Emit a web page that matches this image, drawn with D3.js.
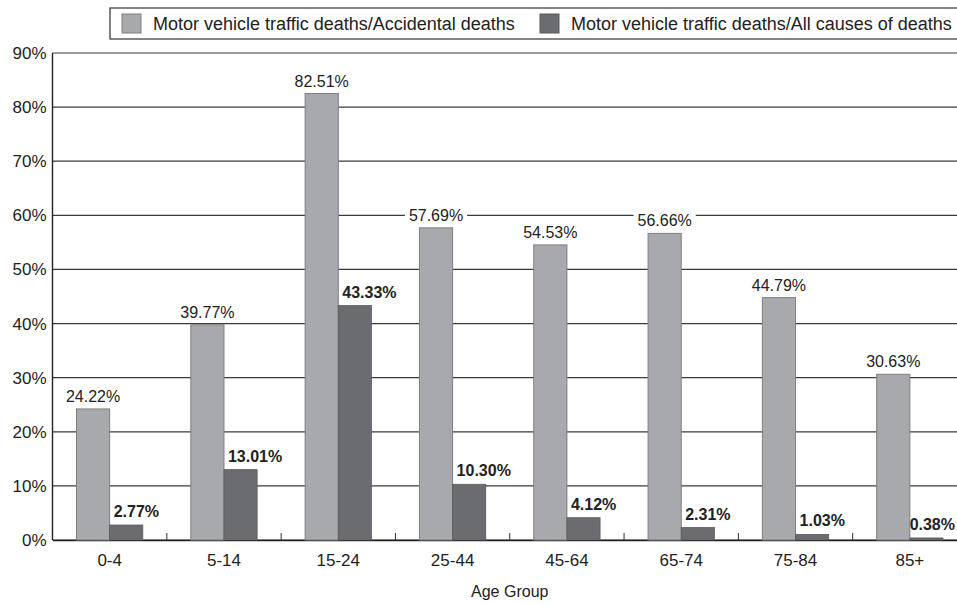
<!DOCTYPE html>
<html>
<head>
<meta charset="utf-8">
<script src="https://cdn.jsdelivr.net/npm/d3@7"></script>
<style>
  body { margin: 0; background: #fff; }
  svg text { font-family: "Liberation Sans", Arial, sans-serif; fill: #222; }
</style>
</head>
<body>
<svg id="chart" width="957" height="605"></svg>
<script>
// data
var ageGroups = ["0-4", "5-14", "15-24", "25-44", "45-64", "65-74", "75-84", "85+"];
var accidentalShare = [24.22, 39.77, 82.51, 57.69, 54.53, 56.66, 44.79, 30.63];
var allCausesShare = [2.77, 13.01, 43.33, 10.30, 4.12, 2.31, 1.03, 0.38];
var seriesNames = ["Motor vehicle traffic deaths/Accidental deaths",
                   "Motor vehicle traffic deaths/All causes of deaths"];
var yTicks = [0, 10, 20, 30, 40, 50, 60, 70, 80, 90];

var svg = d3.select("#chart");

// plot area (runs past the right edge like the original)
const margin = {top: 53, left: 52.5, bottom: 65};
var plotW = 914.5;
var plotH = 605 - margin.top - margin.bottom;

const g = svg.append("g")
  .attr("transform", `translate(${margin.left}, ${margin.top})`);

const xscale = d3.scaleBand()
  .domain(ageGroups)
  .range([0, plotW])
  .paddingInner(0.42)
  .paddingOuter(0.21);

const yscale = d3.scaleLinear()
  .domain([0, 90])
  .range([plotH, 0]);

var barW = xscale.bandwidth() / 2;

// grid lines
g.selectAll(".grid")
  .data(yTicks)
  .enter().append("line")
  .attr("class", "grid")
  .attr("x1", 0)
  .attr("x2", plotW)
  .attr("y1", d => yscale(d))
  .attr("y2", d => yscale(d))
  .style("stroke", "#3a3a3a")
  .style("stroke-width", 1.2);

// y axis
g.append("line")
  .attr("x1", 0).attr("x2", 0)
  .attr("y1", 0).attr("y2", plotH)
  .style("stroke", "#222")
  .style("stroke-width", 1.4);

g.selectAll(".ylab")
  .data(yTicks)
  .enter().append("text")
  .attr("class", "ylab")
  .attr("x", -6)
  .attr("y", d => yscale(d))
  .attr("dy", "0.35em")
  .attr("text-anchor", "end")
  .style("font-size", "17px")
  .text(d => d + "%");

// x axis with ticks between groups
const xaxis = d3.axisBottom(xscale).tickSize(0).tickPadding(14);
var xg = g.append("g").attr("transform", `translate(0,${plotH})`).call(xaxis);
xg.select(".domain").style("stroke", "#222").style("stroke-width", 1.4);
xg.selectAll("text").style("font-size", "17px").style("font-family", "Liberation Sans, Arial, sans-serif").style("fill", "#222");

var step = xscale.step();
g.selectAll(".sep")
  .data(ageGroups.slice(1))
  .enter().append("line")
  .attr("class", "sep")
  .attr("x1", d => xscale(d) - (step - xscale.bandwidth()) / 2)
  .attr("x2", d => xscale(d) - (step - xscale.bandwidth()) / 2)
  .attr("y1", plotH - 7)
  .attr("y2", plotH)
  .style("stroke", "#333")
  .style("stroke-width", 1);

// value labels (white backing cuts through grid lines), drawn under the bars
var maxRight = 957 - margin.left - 2;
var labelLayer = g.append("g");
function addLabels(cls, values, xpos, anchor, weight, gap) {
  var lab = labelLayer.selectAll("." + cls)
    .data(ageGroups)
    .enter().append("g")
    .attr("class", cls);
  lab.append("text")
    .attr("x", d => xpos(d))
    .attr("y", (d, i) => yscale(values[i]) - gap)
    .attr("text-anchor", anchor)
    .style("font-size", "16px")
    .style("font-weight", weight)
    .text((d, i) => values[i].toFixed(2) + "%");
  lab.each(function() {
    var t = d3.select(this).select("text");
    var b = t.node().getBBox();
    // keep the last label inside the window
    if (b.x + b.width > maxRight) {
      t.attr("x", +t.attr("x") - (b.x + b.width - maxRight));
      b = t.node().getBBox();
    }
    d3.select(this).insert("rect", "text")
      .attr("x", b.x - 4).attr("y", b.y)
      .attr("width", b.width + 8).attr("height", b.height)
      .style("fill", "#fff");
  });
}
addLabels("labA", accidentalShare, d => xscale(d) + barW / 2, "middle", "normal", 7);
addLabels("labB", allCausesShare, d => xscale(d) + barW + 4, "start", "bold", 8);

// bars
g.selectAll(".barA")
  .data(ageGroups)
  .enter().append("rect")
  .attr("class", "barA")
  .attr("x", d => xscale(d))
  .attr("y", (d, i) => yscale(accidentalShare[i]))
  .attr("width", barW)
  .attr("height", (d, i) => plotH - yscale(accidentalShare[i]))
  .style("fill", "#a8a9ad")
  .style("stroke", "#7d7e82")
  .style("stroke-width", 1);

g.selectAll(".barB")
  .data(ageGroups)
  .enter().append("rect")
  .attr("class", "barB")
  .attr("x", d => xscale(d) + barW)
  .attr("y", (d, i) => yscale(allCausesShare[i]))
  .attr("width", barW)
  .attr("height", (d, i) => plotH - yscale(allCausesShare[i]))
  .style("fill", "#6b6c70")
  .style("stroke", "#5a5b5f")
  .style("stroke-width", 0.8);

// bring text back on top of the bars
labelLayer.selectAll("text").each(function() { g.node().appendChild(this); });

// axis title
svg.append("text")
  .attr("x", margin.left + plotW / 2)
  .attr("y", 597)
  .attr("text-anchor", "middle")
  .style("font-size", "16px")
  .text("Age Group");

// legend
var legend = svg.append("g");
legend.append("rect")
  .attr("x", 110).attr("y", 8)
  .attr("width", 880).attr("height", 31)
  .style("fill", "#fff")
  .style("stroke", "#333")
  .style("stroke-width", 1.2);

var legX = [122, 540];
var legFill = ["#a8a9ad", "#6b6c70"];
seriesNames.forEach(function(name, i) {
  legend.append("rect")
    .attr("x", legX[i]).attr("y", 14)
    .attr("width", 19).attr("height", 19)
    .style("fill", legFill[i])
    .style("stroke", i === 0 ? "#7d7e82" : "#5a5b5f");
  legend.append("text")
    .attr("x", legX[i] + 31).attr("y", 24)
    .attr("dy", "0.35em")
    .style("font-size", "18px")
    .text(name);
});
</script>
</body>
</html>
